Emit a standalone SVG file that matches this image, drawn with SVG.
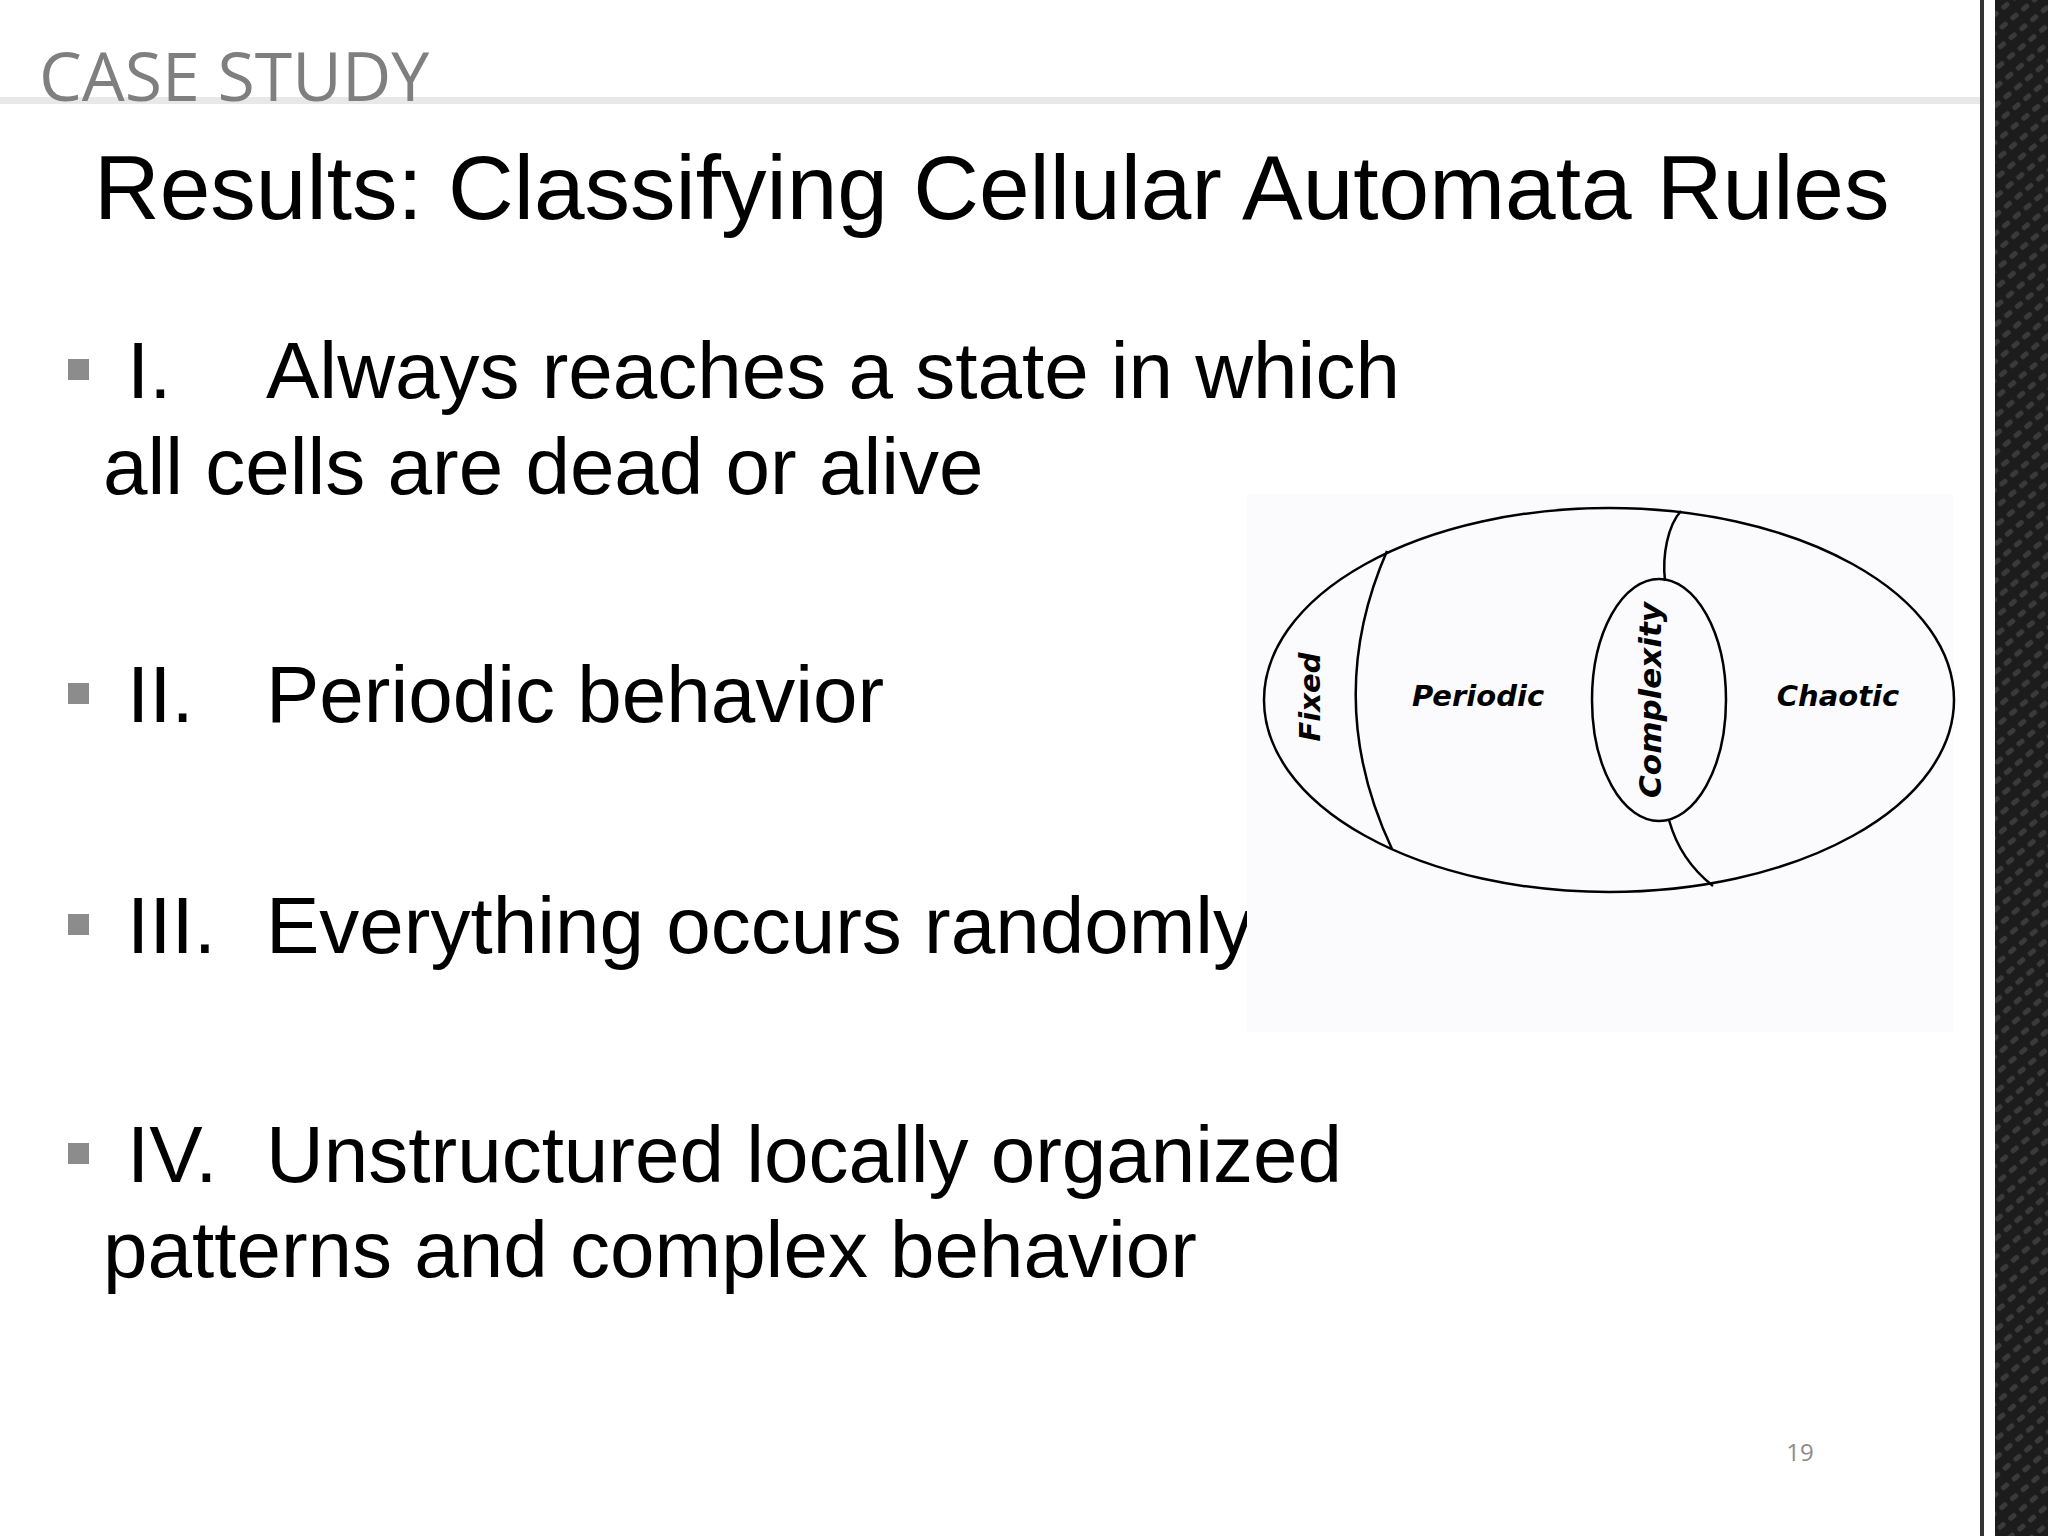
<svg xmlns="http://www.w3.org/2000/svg" width="2048" height="1536" viewBox="0 0 2048 1536">
<defs>
<style>
.b{font-family:"Liberation Sans",Arial,sans-serif;font-size:80px;fill:#000}
.lbl{font-family:"DejaVu Sans",sans-serif;font-weight:bold;font-style:italic;fill:#000}
.ln{fill:none;stroke:#000;stroke-width:2.5}
.sq{fill:#8c8c8c}
</style>
<pattern id="tex" width="14" height="14" patternUnits="userSpaceOnUse" patternTransform="rotate(-40)">
<rect width="14" height="14" fill="#1c1c1c"/>
<rect x="2" y="3" width="9" height="5" rx="2" fill="#3a3a3a"/>
</pattern>
</defs>
<rect width="2048" height="1536" fill="#fff"/>
<rect x="1995" y="0" width="53" height="1536" fill="url(#tex)"/>
<rect x="1980" y="0" width="4" height="1536" fill="#333"/>
<rect x="0" y="97" width="1980" height="7" fill="#e8e8e8"/>
<text x="39" y="101" font-family="'Open Sans',sans-serif" font-size="68" fill="#7f7f7f">CASE STUDY</text>
<text x="94" y="219" font-family="'Liberation Sans',Arial,sans-serif" font-size="91" fill="#000">Results: Classifying Cellular Automata Rules</text>
<g id="bullet1">
<rect class="sq" x="68" y="359" width="21" height="21"/>
<text class="b" x="127" y="398">I.</text><text class="b" x="266" y="398">Always reaches a state in which</text>
<text class="b" x="103" y="494">all cells are dead or alive</text>
</g>
<g id="bullet2">
<rect class="sq" x="68" y="683" width="21" height="21"/>
<text class="b" x="127" y="722">II.</text><text class="b" x="266" y="722">Periodic behavior</text>
</g>
<g id="bullet3">
<rect class="sq" x="68" y="914" width="21" height="21"/>
<text class="b" x="127" y="953">III.</text><text class="b" x="266" y="953">Everything occurs randomly</text>
</g>
<g id="bullet4">
<rect class="sq" x="68" y="1143" width="21" height="21"/>
<text class="b" x="127" y="1182">IV.</text><text class="b" x="266" y="1182">Unstructured locally organized</text>
<text class="b" x="103" y="1277">patterns and complex behavior</text>
</g>
<g id="diagram">
<rect x="1247" y="494" width="706" height="538" fill="#fbfafc"/>
<ellipse class="ln" cx="1609" cy="700" rx="345" ry="192"/>
<ellipse class="ln" cx="1659" cy="700" rx="67" ry="121"/>
<path class="ln" d="M1387,551 Q1322,700 1392,849"/>
<path class="ln" d="M1681,511 C1668,525 1662,555 1665,581"/>
<path class="ln" d="M1669,820 Q1680,860 1713,886"/>
<text class="lbl" font-size="29" text-anchor="middle" transform="translate(1320,697) rotate(-90)">Fixed</text>
<text class="lbl" font-size="29" text-anchor="middle" x="1478" y="706">Periodic</text>
<text class="lbl" font-size="31" text-anchor="middle" transform="translate(1661,700) rotate(-90)">Complexity</text>
<text class="lbl" font-size="29" text-anchor="middle" x="1838" y="706">Chaotic</text>
</g>
<text x="1800" y="1461" font-family="'Open Sans',sans-serif" font-size="24" fill="#8c8c8c" text-anchor="middle">19</text>
</svg>
